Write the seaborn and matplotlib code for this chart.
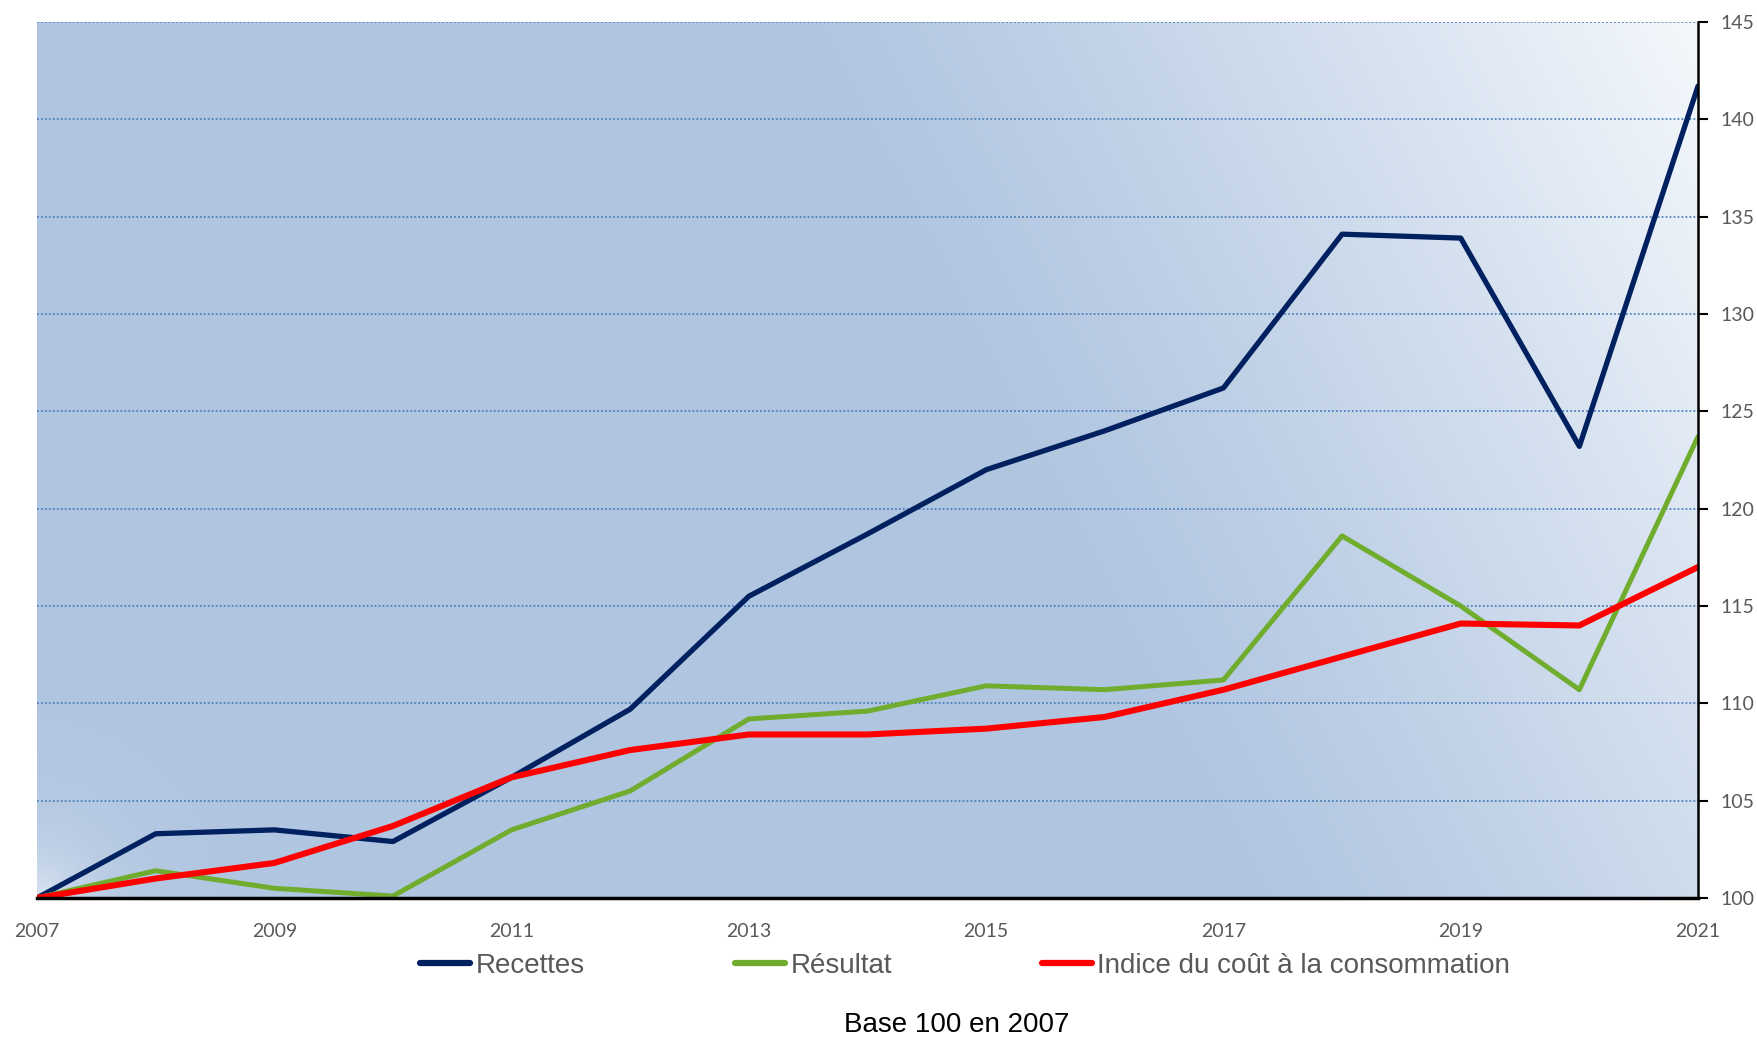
import numpy as np
import pandas as pd
import matplotlib
matplotlib.use("Agg")
import matplotlib.pyplot as plt
import seaborn as sns
from matplotlib.lines import Line2D

# --- Données (base 100 en 2007) ---
annees = list(range(2007, 2022))
recettes = [100, 103.3, 103.5, 102.9, 106.2, 109.7, 115.5, 118.7, 122.0,
            124.0, 126.2, 134.1, 133.9, 123.2, 141.7]
resultat = [100, 101.4, 100.5, 100.1, 103.5, 105.5, 109.2, 109.6, 110.9,
            110.7, 111.2, 118.6, 115.0, 110.7, 123.7]
indice = [100, 101.0, 101.8, 103.7, 106.2, 107.6, 108.4, 108.4, 108.7,
          109.3, 110.7, 112.4, 114.1, 114.0, 117.0]

series = ["Recettes", "Résultat", "Indice du coût à la consommation"]
couleurs = ["#002060", "#70AD2F", "#FF0000"]
epaisseurs = [3.8, 3.6, 4.4]

df = pd.DataFrame({
    "Année": annees * 3,
    "Valeur": recettes + resultat + indice,
    "Série": sum([[s] * len(annees) for s in series], []),
})

sns.set_style("white")
plt.rcParams["font.family"] = ["Lato", "DejaVu Sans"]

fig = plt.figure(figsize=(17.58, 10.41), dpi=100)
ax = fig.add_axes([37 / 1758, 1 - 898 / 1041, (1698 - 37) / 1758, (898 - 22) / 1041])

# --- Fond en dégradé (bleu -> blanc vers le coin supérieur droit) ---
nx, ny = 400, 200
u = np.linspace(0, 1, nx)[None, :]
v = np.linspace(1, 0, ny)[:, None]
t = np.clip((u + 0.27 * v - 0.72) / 0.55, 0, 1) ** 1.2
c0 = np.array([176, 197, 224]) / 255
c1 = np.array([244, 248, 252]) / 255
img = c0[None, None, :] * (1 - t[..., None]) + c1[None, None, :] * t[..., None]
# léger halo au coin inférieur gauche
d = np.sqrt((u * 1661 / 876 / 0.06) ** 2 + (v / 0.06) ** 2)
h = np.clip(np.exp(-d) * 0.6, 0, 1)
img = img * (1 - h[..., None]) + c1[None, None, :] * h[..., None]
ax.imshow(img, extent=[0, 1, 0, 1], transform=ax.transAxes, aspect="auto",
          zorder=0, interpolation="bilinear")

# --- Grille horizontale pointillée ---
for yv in range(105, 146, 5):
    ax.axhline(yv, color="#4F81BD", lw=1.3, ls=(0, (1, 1.2)), zorder=1)

for s, c, w in zip(series, couleurs, epaisseurs):
    sns.lineplot(data=df[df["Série"] == s], x="Année", y="Valeur", color=c,
                 lw=w, ax=ax, legend=False, zorder=3)

ax.set_xlim(2007, 2021)
ax.set_ylim(100, 145)
ax.set_xlabel("")
ax.set_ylabel("")

ax.set_xticks(annees)
ax.set_xticklabels([str(a) if (a - 2007) % 2 == 0 else "" for a in annees])
ax.set_yticks(range(100, 146, 5))
ax.yaxis.tick_right()
ax.tick_params(axis="both", direction="out", length=7, width=1.5, color="black",
               labelcolor="#595959", labelsize=14)
ax.tick_params(axis="x", pad=11)
ax.tick_params(axis="y", pad=9)

for side in ["top", "left"]:
    ax.spines[side].set_visible(False)
for side in ["bottom", "right"]:
    ax.spines[side].set_visible(True)
    ax.spines[side].set_color("black")
    ax.spines[side].set_zorder(5)
ax.spines["bottom"].set_linewidth(2.5)
ax.spines["right"].set_linewidth(1.8)

# --- Légende ---
handles = [Line2D([0], [0], color=c, lw=4.5, solid_capstyle="round") for c in couleurs]
leg = ax.legend(handles, series, loc="center", bbox_to_anchor=(0.549, 1 - 966 / 1041),
                bbox_transform=fig.transFigure, ncol=3, frameon=False,
                handlelength=1.8, handletextpad=0.2, columnspacing=5.4,
                prop={"family": "Liberation Sans", "size": 20})
for txt in leg.get_texts():
    txt.set_color("#595959")

fig.text(0.544, 1 - 1025 / 1041, "Base 100 en 2007", ha="center", va="center",
         fontsize=20, family="Liberation Sans", color="black")

fig.savefig("out.png", dpi=100)
